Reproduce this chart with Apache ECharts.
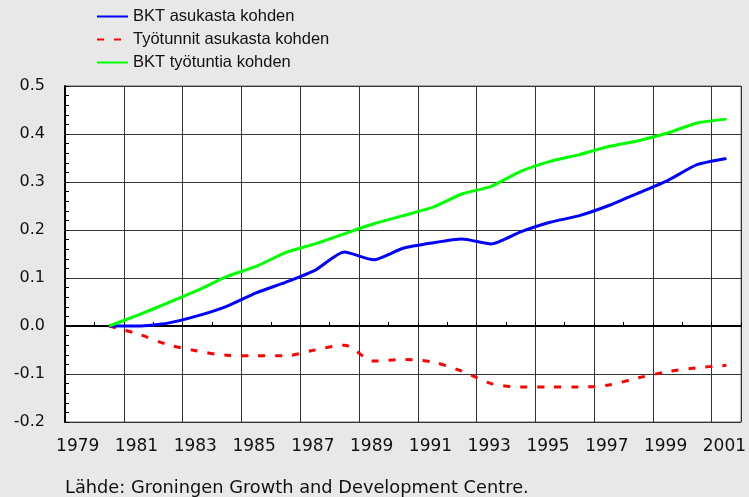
<!DOCTYPE html>
<html>
<head>
<meta charset="utf-8">
<script src="https://cdn.jsdelivr.net/npm/echarts@6/dist/echarts.min.js"></script>
<style>
  html, body { margin: 0; padding: 0; background: #e8e8e8; }
  #chart { width: 749px; height: 497px; }
</style>
</head>
<body>
<div id="chart"></div>
<script>
// years on the category axis (1979 is an empty slot, data begins 1980)
var years = ["1979", "1980", "1981", "1982", "1983", "1984", "1985", "1986", "1987", "1988", "1989", "1990",
  "1991", "1992", "1993", "1994", "1995", "1996", "1997", "1998", "1999", "2000", "2001"];

var bktAsukas = [null, 0.000, 0.000, 0.006, 0.021, 0.041, 0.069, 0.091, 0.116, 0.154, 0.138, 0.162,
  0.173, 0.181, 0.171, 0.196, 0.216, 0.230, 0.251, 0.277, 0.303, 0.336, 0.349];

var tyotunnit = [null, 0.000, -0.017, -0.039, -0.052, -0.061, -0.062, -0.062, -0.050, -0.040, -0.073, -0.070,
  -0.075, -0.094, -0.120, -0.127, -0.127, -0.127, -0.123, -0.108, -0.095, -0.087, -0.082];

var bktTyotunti = [null, 0.000, 0.023, 0.048, 0.074, 0.103, 0.124, 0.153, 0.171, 0.192, 0.213, 0.230,
  0.247, 0.275, 0.291, 0.322, 0.343, 0.357, 0.374, 0.386, 0.402, 0.423, 0.431];

var seriesNames = ["BKT asukasta kohden", "Työtunnit asukasta kohden", "BKT työtuntia kohden"];
var source = "Lähde: Groningen Growth and Development Centre.";

var chart = echarts.init(document.getElementById("chart"));

var option = {
  backgroundColor: "#e8e8e8",
  animation: false,
  title: {
    text: source,
    left: 60,
    top: 474,
    textStyle: {
      fontFamily: "DejaVu Sans",
      fontSize: 17.8,
      fontWeight: "normal",
      color: "#111"
    }
  },
  legend: {
    orient: "vertical",
    left: 91,
    top: 3,
    itemWidth: 31,
    itemHeight: 14,
    itemGap: 6,
    data: seriesNames,
    itemStyle: { opacity: 0 },
    textStyle: {
      fontFamily: "Liberation Sans",
      fontSize: 16.5,
      color: "#111"
    }
  },
  grid: {
    left: 65,
    top: 86,
    right: 6,
    bottom: 75,
    show: true,
    backgroundColor: "#ffffff",
    borderColor: "#666",
    borderWidth: 1
  },
  xAxis: {
    type: "category",
    data: years,
    boundaryGap: true,
    axisLine: { lineStyle: { color: "#000", width: 2 } },
    axisTick: { show: true, inside: true, length: 4, interval: 0, lineStyle: { color: "#000" } },
    axisLabel: {
      interval: 1,
      margin: 16,
      fontFamily: "DejaVu Sans",
      fontSize: 17,
      color: "#111",
      padding: [0, 4, 0, 0]
    },
    splitLine: {
      show: true,
      interval: 1,
      lineStyle: { color: "#333", width: 1 }
    }
  },
  yAxis: {
    type: "value",
    min: -0.2,
    max: 0.5,
    interval: 0.1,
    axisLine: { show: true, lineStyle: { color: "#000", width: 2 } },
    axisTick: { show: true, inside: true, length: 4, lineStyle: { color: "#000" } },
    minorTick: { show: true, splitNumber: 5, length: 4, lineStyle: { color: "#000" } },
    axisLabel: {
      margin: 20,
      fontFamily: "DejaVu Sans",
      fontSize: 16,
      color: "#111",
      formatter: function (v) { return v.toFixed(1); }
    },
    splitLine: { show: true, lineStyle: { color: "#333", width: 1 } }
  },
  series: [
    {
      name: seriesNames[0],
      type: "line",
      data: bktAsukas,
      symbol: "none",
      smooth: 0.2,
      lineStyle: { color: "#0000ff", width: 3 },
      itemStyle: { color: "#0000ff" },
      z: 4
    },
    {
      name: seriesNames[1],
      type: "line",
      data: tyotunnit,
      symbol: "none",
      smooth: 0.3,
      lineStyle: { color: "#ff0000", width: 3, type: [7, 10] },
      itemStyle: { color: "#ff0000" },
      z: 3
    },
    {
      name: seriesNames[2],
      type: "line",
      data: bktTyotunti,
      symbol: "none",
      smooth: 0.2,
      lineStyle: { color: "#00ff00", width: 3 },
      itemStyle: { color: "#00ff00" },
      z: 5
    }
  ]
};

chart.setOption(option);
</script>
</body>
</html>
